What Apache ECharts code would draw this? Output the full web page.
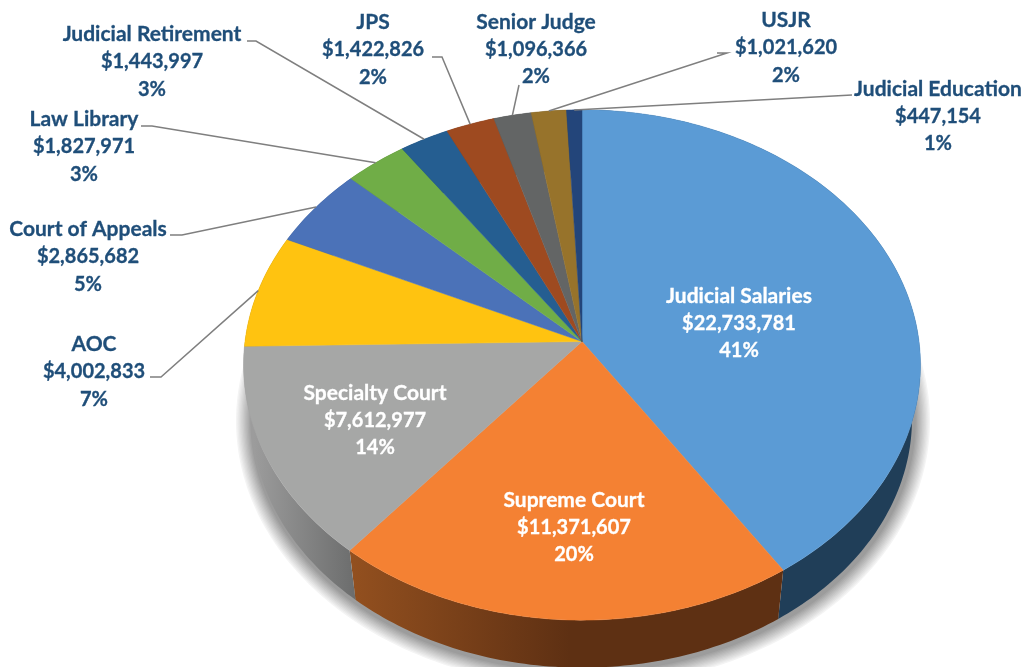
<!DOCTYPE html>
<html>
<head>
<meta charset="utf-8">
<title>Judicial budget</title>
<script src="https://cdn.jsdelivr.net/npm/echarts@6/dist/echarts.min.js"></script>
<style>
    html, body { margin: 0; padding: 0; background: #fff; }
    #chart { width: 1024px; height: 667px; }
</style>
</head>
<body>
<div id="chart"></div>
<script>
// 数据
const sliceNames = ['Judicial Salaries', 'Supreme Court', 'Specialty Court', 'AOC', 'Court of Appeals', 'Law Library',
    'Judicial Retirement', 'JPS', 'Senior Judge', 'USJR', 'Judicial Education'];
const sliceValues = [22733781, 11371607, 7612977, 4002833, 2865682, 1827971, 1443997, 1422826, 1096366, 1021620, 447154];
const slicePercents = [41, 20, 14, 7, 5, 3, 3, 2, 2, 2, 1];

// 颜色
const topColors = ['#5b9bd5', '#f48133', '#a6a7a6', '#ffc310', '#4b72b8', '#70ad47', '#255e91', '#9e4a20', '#636565', '#97732b', '#23457a'];
const sideColors = ['#203e58', 'orange', 'grey', '#8a6a08', '#2c4570', '#43682a', '#163857', '#5e2c13', '#3b3d3d', '#5a451a', '#152a49'];
// 阴影从外到内的灰度
const shadowColors = ['#f4f4f4', '#ececec', '#e4e4e4', '#dcdcdc', '#d4d4d4', '#cccccc', '#c4c4c4', '#bcbcbc', '#b4b4b4', '#acacac', '#a4a4a4', '#9c9c9c'];

const NAME_FONT = 'bold 21px Lato, "Open Sans", sans-serif';
const VALUE_FONT = 'bold 20px Lato, "Open Sans", sans-serif';
const LABEL_BLUE = '#1f4e79';
const LINE_GREY = '#7f7f7f';
const LINE_HEIGHT = 27.5;

// 标签位置：中心点，以及引导线的折点
const labelLayout = [
    {x: 739, y: 323.5, color: '#fff'},
    {x: 574, y: 527.5, color: '#fff'},
    {x: 375, y: 420.5, color: '#fff'},
    {x: 94, y: 372, line: [[150, 377], [161, 377]]},
    {x: 88, y: 257, line: [[170, 235], [182, 235]]},
    {x: 84, y: 147, line: [[141, 126], [152, 126]]},
    {x: 152, y: 62, line: [[247, 41], [256, 41]]},
    {x: 373, y: 50, line: [[432, 57], [442, 57]]},
    {x: 536, y: 49.5, line: [[519, 85]]},
    {x: 786, y: 48, line: [[717, 53], [727, 53]]},
    {x: 938, y: 116.5, line: [[852, 95]]}
];

// 透视圆盘：上表面和底面
const TOP_FACE = {x: 582, y: 341.5, scale: 1};
const BOTTOM_FACE = {x: 582, y: 396, scale: 0.975};
const SHADOW_FACE = {x: 583, y: 398, scale: 0.975};
const RADIUS_X = 337;
const RADIUS_Y = 253;
const PERSPECTIVE = -0.092;

const total = sliceValues.reduce((a, b) => a + b, 0);

function sliceRange(index) {
    let start = 0;
    for (let i = 0; i < index; i++) {
        start += sliceValues[i];
    }
    return [start / total, (start + sliceValues[index]) / total];
}

// 占比 -> 屏幕坐标
function rimPoint(fraction, face) {
    let angle = fraction * Math.PI * 2;
    let px = Math.sin(angle);
    let py = -Math.cos(angle);
    let d = 1 + PERSPECTIVE * py;
    return [face.x + face.scale * RADIUS_X * px / d, face.y + face.scale * RADIUS_Y * py / d];
}

function arcPoints(from, to, face) {
    let steps = Math.max(2, Math.ceil((to - from) * 360));
    let points = [];
    for (let i = 0; i <= steps; i++) {
        points.push(rimPoint(from + (to - from) * i / steps, face));
    }
    return points;
}

function sideFill(index) {
    if (sideColors[index] === 'orange') {
        return new echarts.graphic.LinearGradient(350, 0, 570, 0, [
            {offset: 0, color: '#93501f'},
            {offset: 1, color: '#5e3013'}
        ], true);
    }
    if (sideColors[index] === 'grey') {
        return new echarts.graphic.LinearGradient(245, 0, 355, 0, [
            {offset: 0, color: '#a0a0a0'},
            {offset: 1, color: '#6c6d6d'}
        ], true);
    }
    return sideColors[index];
}

// 沿底面前缘画一圈圈由浅到深的描边，做出柔和的阴影
function renderShadow(params) {
    let i = params.dataIndex;
    return {
        type: 'polyline',
        shape: {points: arcPoints(0.2, 0.8, SHADOW_FACE)},
        style: {fill: 'none', stroke: shadowColors[i], lineWidth: 34 - i * 2.6}
    };
}

function renderSide(params) {
    let range = sliceRange(params.dataIndex);
    let top = arcPoints(range[0], range[1], TOP_FACE);
    let bottom = arcPoints(range[0], range[1], BOTTOM_FACE).reverse();
    return {
        type: 'polygon',
        shape: {points: top.concat(bottom)},
        style: {fill: sideFill(params.dataIndex)}
    };
}

function renderTop(params) {
    let color = topColors[params.dataIndex];
    let range = sliceRange(params.dataIndex);
    return {
        type: 'polygon',
        shape: {points: [[TOP_FACE.x, TOP_FACE.y]].concat(arcPoints(range[0], range[1], TOP_FACE))},
        style: {fill: color, stroke: color, lineWidth: 0.5}
    };
}

function textLine(text, font, x, y, color) {
    return {
        type: 'text',
        style: {
            x: x,
            y: y,
            text: text,
            font: font,
            align: 'center',
            verticalAlign: 'middle',
            fill: color,
            stroke: color,
            lineWidth: 0.3
        }
    };
}

function renderLabel(params, api) {
    let i = params.dataIndex;
    let layout = labelLayout[i];
    let color = layout.color || LABEL_BLUE;
    let children = [
        textLine(sliceNames[i], NAME_FONT, layout.x, layout.y - LINE_HEIGHT, color),
        textLine('$' + api.value(0).toLocaleString('en-US'), VALUE_FONT, layout.x, layout.y, color),
        textLine(slicePercents[i] + '%', VALUE_FONT, layout.x, layout.y + LINE_HEIGHT, color)
    ];
    if (layout.line) {
        let range = sliceRange(i);
        let end = rimPoint((range[0] + range[1]) / 2, TOP_FACE);
        children.push({
            type: 'polyline',
            shape: {points: layout.line.concat([end])},
            style: {fill: 'none', stroke: LINE_GREY, lineWidth: 1.5}
        });
    }
    return {type: 'group', children: children};
}

const chart = echarts.init(document.querySelector('#chart'));
chart.setOption({
    animation: false,
    backgroundColor: '#fff',
    series: [
        {type: 'custom', coordinateSystem: 'none', silent: true, z: 1, renderItem: renderShadow, data: shadowColors.map((c, i) => i + 1)},
        {type: 'custom', coordinateSystem: 'none', silent: true, z: 2, renderItem: renderSide, data: sliceValues},
        {type: 'custom', coordinateSystem: 'none', silent: true, z: 3, renderItem: renderTop, data: sliceValues},
        {type: 'custom', coordinateSystem: 'none', silent: true, z: 4, renderItem: renderLabel, data: sliceValues}
    ]
});
</script>
</body>
</html>
